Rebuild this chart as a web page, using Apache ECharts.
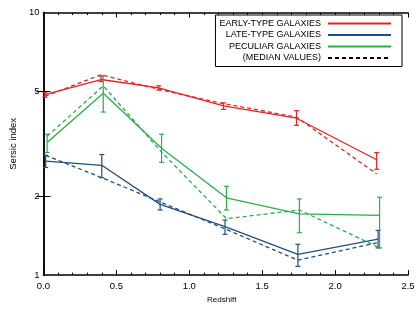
<!DOCTYPE html>
<html><head><meta charset="utf-8">
<script src="https://cdn.jsdelivr.net/npm/echarts@6/dist/echarts.min.js"></script>
<style>html,body{margin:0;padding:0;background:#fff}#c{width:419px;height:309px}</style>
</head><body><div id="c"></div>
<script>
// Redshift positions (slightly offset per class, as plotted)
var earlyZ = [0.01, 0.395, 0.79, 1.235, 1.735, 2.285];
var lateZ  = [0.015, 0.40, 0.80, 1.245, 1.745, 2.295];
var pecZ   = [0.025, 0.41, 0.81, 1.255, 1.755, 2.305];

// Mean Sersic index
var earlyN = [4.87, 5.56, 5.17, 4.41, 3.96, 2.75];
var lateN  = [2.72, 2.62, 1.86, 1.53, 1.20, 1.37];
var pecN   = [3.20, 4.93, 3.04, 1.97, 1.71, 1.69];

// Error bar bounds
var earlyLo = [4.76, 5.46, 5.07, 4.28, 3.72, 2.53];
var earlyHi = [4.96, 5.73, 5.26, 4.53, 4.23, 2.93];
var lateLo  = [2.57, 2.35, 1.77, 1.43, 1.08, 1.27];
var lateHi  = [2.86, 2.88, 1.95, 1.62, 1.31, 1.48];
var pecLo   = [2.93, 4.18, 2.69, 1.77, 1.45, 1.27];
var pecHi   = [3.44, 5.76, 3.44, 2.18, 1.95, 1.98];

// Median values
var earlyMed = [4.80, 5.80, 5.10, 4.50, 4.00, 2.43];
var lateMed  = [2.86, 2.35, 1.90, 1.50, 1.14, 1.33];
var pecMed   = [3.38, 5.26, 2.94, 1.64, 1.77, 1.27];

var yTicks = [1, 2, 5, 10];
var yInnerTicks = [2, 5];

var RED = '#e02424', BLUE = '#1f4f82', GREEN = '#2aae48';
var FONT = 'Liberation Sans';

function pairs(xs, ys) { return xs.map(function (x, i) { return [x, ys[i]]; }); }
function bars(xs, lo, hi) { return xs.map(function (x, i) { return [x, lo[i], hi[i]]; }); }

function errSeries(name, xs, lo, hi, color) {
  return {
    type: 'custom', name: name + ' err', xAxisIndex: 0, yAxisIndex: 0, z: 3,
    data: bars(xs, lo, hi), silent: true,
    renderItem: function (params, api) {
      var x = api.value(0);
      var a = api.coord([x, api.value(1)]);
      var b = api.coord([x, api.value(2)]);
      var w = 2.5;
      var st = { stroke: color, lineWidth: 1.2 };
      return { type: 'group', children: [
        { type: 'line', shape: { x1: a[0], y1: a[1], x2: b[0], y2: b[1] }, style: st },
        { type: 'line', shape: { x1: a[0] - w, y1: a[1], x2: a[0] + w, y2: a[1] }, style: st },
        { type: 'line', shape: { x1: b[0] - w, y1: b[1], x2: b[0] + w, y2: b[1] }, style: st }
      ]};
    }
  };
}
function lineSeries(name, xs, ys, color, dashed) {
  return {
    type: 'line', name: name, data: pairs(xs, ys), symbol: 'none', z: 2,
    lineStyle: { color: color, width: 1.3, type: dashed ? [4, 3] : 'solid' },
    itemStyle: { color: color }
  };
}

var chart = echarts.init(document.getElementById('c'), null, { renderer: 'canvas' });
var axisLine = { show: true, lineStyle: { color: '#000', width: 1.5 } };
chart.setOption({
  animation: false,
  backgroundColor: '#fff',
  textStyle: { fontFamily: FONT },
  grid: { left: 38.5, right: 11, top: 12.6, bottom: 25, containLabel: false },
  legend: {
    orient: 'vertical', align: 'right', right: 17, top: 15,
    backgroundColor: '#fff', borderColor: '#000', borderWidth: 1,
    padding: [4, 10, 4, 4], itemGap: 2.5, itemWidth: 63, itemHeight: 8,
    itemStyle: { opacity: 0 },
    textStyle: { fontFamily: FONT, fontSize: 9, color: '#000', padding: [0, 2, 0, 0] },
    data: ['EARLY-TYPE GALAXIES', 'LATE-TYPE GALAXIES', 'PECULIAR GALAXIES', '(MEDIAN VALUES)']
  },
  xAxis: [{
    type: 'value', min: 0, max: 2.5, interval: 0.5, position: 'bottom',
    name: 'Redshift', nameLocation: 'middle', nameGap: 16,
    nameTextStyle: { fontFamily: FONT, fontSize: 8, color: '#000', padding: [0, 8, 0, 0] },
    axisLine: axisLine, splitLine: { show: false },
    axisTick: { inside: true, length: 5, lineStyle: { color: '#000', width: 1 } },
    minorTick: { show: true, splitNumber: 5, length: 2.5, lineStyle: { color: '#000', width: 1 } },
    axisLabel: { fontFamily: FONT, fontSize: 9.5, color: '#000', margin: 6,
      formatter: function (v) { return v.toFixed(1); } }
  }, {
    type: 'value', min: 0, max: 2.5, interval: 0.5, position: 'top',
    axisLine: axisLine, splitLine: { show: false },
    axisTick: { inside: true, length: 5, lineStyle: { color: '#000', width: 1 } },
    minorTick: { show: true, splitNumber: 5, length: 2.5, lineStyle: { color: '#000', width: 1 } },
    axisLabel: { show: false }
  }],
  yAxis: [{
    type: 'log', logBase: 10, min: 1, max: 10, position: 'left',
    name: 'Sersic index', nameLocation: 'middle', nameGap: 19.5, nameRotate: 90,
    nameTextStyle: { fontFamily: FONT, fontSize: 9.5, color: '#000' },
    axisLine: axisLine, splitLine: { show: false },
    axisTick: { inside: true, length: 7, customValues: yInnerTicks, lineStyle: { color: '#000', width: 1 } },
    axisLabel: { fontFamily: FONT, fontSize: 9.5, color: '#000', margin: 4, customValues: yTicks }
  }, {
    type: 'log', logBase: 10, min: 1, max: 10, position: 'right',
    axisLine: axisLine, splitLine: { show: false },
    axisTick: { inside: true, length: 7, customValues: yInnerTicks, lineStyle: { color: '#000', width: 1 } },
    axisLabel: { show: false }
  }],
  series: [
    lineSeries('EARLY-TYPE GALAXIES', earlyZ, earlyN, RED, false),
    lineSeries('LATE-TYPE GALAXIES', lateZ, lateN, BLUE, false),
    lineSeries('PECULIAR GALAXIES', pecZ, pecN, GREEN, false),
    lineSeries('early median', earlyZ, earlyMed, RED, true),
    lineSeries('late median', lateZ, lateMed, BLUE, true),
    lineSeries('pec median', pecZ, pecMed, GREEN, true),
    { type: 'line', name: '(MEDIAN VALUES)', data: [], symbol: 'none',
      lineStyle: { color: '#000', width: 1.3, type: [4, 3] }, itemStyle: { color: '#000' } },
    errSeries('early', earlyZ, earlyLo, earlyHi, RED),
    errSeries('late', lateZ, lateLo, lateHi, BLUE),
    errSeries('pec', pecZ, pecLo, pecHi, GREEN)
  ]
});
</script></body></html>
